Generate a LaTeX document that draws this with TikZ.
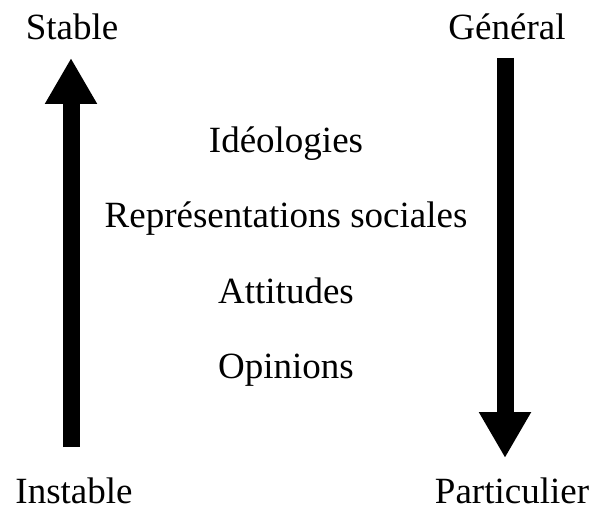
\documentclass[tikz,border=0pt]{standalone}
\usepackage{fontspec}
\setmainfont{Liberation Serif}
\usetikzlibrary{arrows.meta}

\tikzset{
    label text/.style={font=\fontsize{37}{44}\selectfont, inner sep=0pt, anchor=base},
    big arrow/.style={line width=17pt, -{Triangle[width=49pt, length=46pt]}}
}

\begin{document}
\begin{tikzpicture}[x=1pt, y=-1pt]
    \useasboundingbox (0, 0) rectangle (593, 510);

    % left scale
    \node (stable) [label text] at (72, 40) {Stable};
    \node (instable) [label text, text depth=0pt] at (74, 503) {Instable};
    \coordinate (upfoot) at (71, 447);
    \coordinate (uptip) at (71, 58);
    \draw[big arrow] (upfoot) -- (uptip);

    % right scale
    \node (general) [label text] at (507, 40) {Général};
    \node (particulier) [label text, text depth=0pt] at (512, 503) {Particulier};
    \coordinate (downtop) at (505, 58);
    \coordinate (downtip) at (505, 458);
    \draw[big arrow] (downtop) -- (downtip);

    % levels
    \node (ideologies) [label text] at (286, 153) {Idéologies};
    \node (representations) [label text] at (286, 228) {Représentations sociales};
    \node (attitudes) [label text] at (286, 303) {Attitudes};
    \node (opinions) [label text] at (286, 378) {Opinions};
\end{tikzpicture}
\end{document}
